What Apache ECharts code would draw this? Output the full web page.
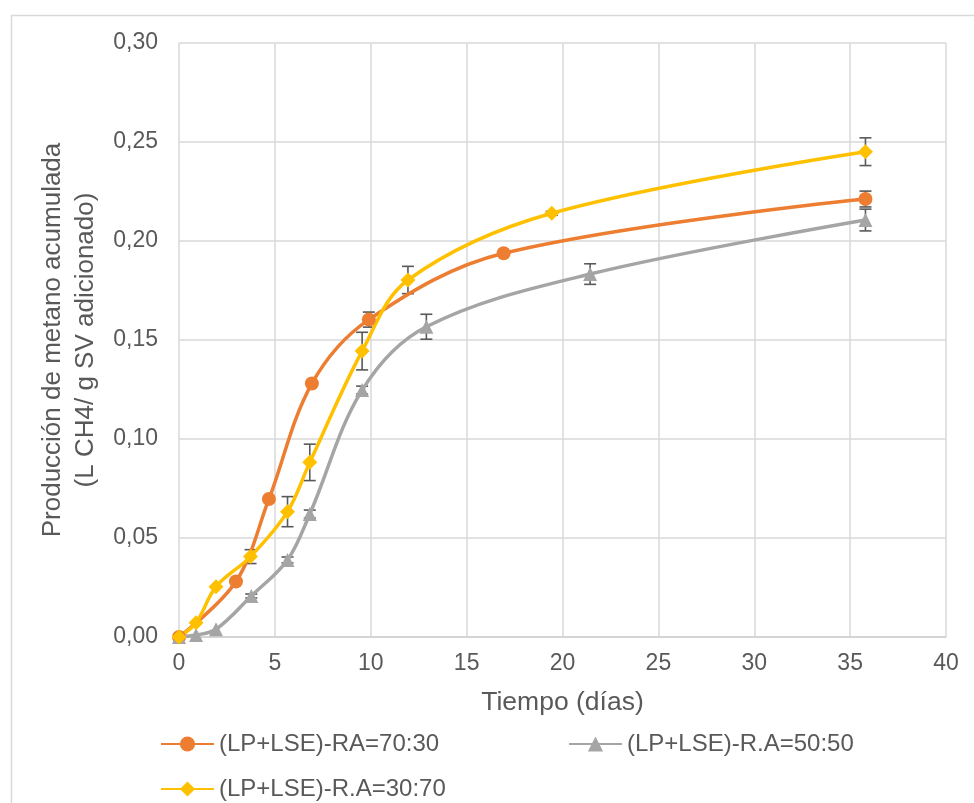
<!DOCTYPE html>
<html>
<head>
<meta charset="utf-8">
<script src="https://cdn.jsdelivr.net/npm/echarts@6/dist/echarts.min.js"></script>
<style>html,body{margin:0;padding:0;background:#fff}#c{width:974px;height:803px}</style>
</head>
<body>
<div id="c"></div>
<script>
// Series names
var names = ['(LP+LSE)-RA=70:30', '(LP+LSE)-R.A=50:50', '(LP+LSE)-R.A=30:70'];
// Orange: x (days), y, error
var xA = [0, 2.97, 4.69, 6.93, 9.9, 16.93, 35.8];
var yA = [0, 0.028, 0.0697, 0.128, 0.1603, 0.1938, 0.2212];
var eA = [0, 0, 0, 0, 0.0038, 0, 0.004];
// Gray
var xB = [0, 0.89, 1.93, 3.77, 5.66, 6.82, 9.55, 12.9, 21.44, 35.8];
var yB = [0, 0.001, 0.0039, 0.0207, 0.0389, 0.0621, 0.1247, 0.1567, 0.1833, 0.2106];
var eB = [0, 0, 0, 0.001, 0.0015, 0.002, 0.002, 0.0063, 0.0052, 0.0055];
// Yellow
var xC = [0, 0.89, 1.93, 3.73, 5.66, 6.82, 9.55, 11.94, 19.44, 35.8];
var yC = [0, 0.0072, 0.0254, 0.0406, 0.0633, 0.0882, 0.1444, 0.1803, 0.214, 0.2451];
var eC = [0, 0, 0, 0.0035, 0.0076, 0.0092, 0.0095, 0.0069, 0.001, 0.007];
// Axis ticks
var yTicks = [0, 0.05, 0.10, 0.15, 0.20, 0.25, 0.30];
var xTicks = [0, 5, 10, 15, 20, 25, 30, 35, 40];

var colors = ['#ED7D31', '#A5A5A5', '#FFC000'];
var symbols = ['circle', 'triangle', 'diamond'];
var FONT = 'Liberation Sans, Arial, sans-serif';

function pts(xs, ys) { return xs.map(function (x, i) { return [x, ys[i]]; }); }
function errPts(xs, ys, es) {
  var out = [];
  xs.forEach(function (x, i) { if (es[i] > 0) out.push([x, ys[i], es[i]]); });
  return out;
}
function errSeries(data) {
  return {
    type: 'custom', z: 1, silent: true,
    data: data,
    renderItem: function (params, api) {
      var x = api.value(0), y = api.value(1), e = api.value(2);
      var t = api.coord([x, y + e]), b = api.coord([x, y - e]);
      var w = 6;
      var st = { stroke: '#595959', lineWidth: 1.6 };
      return {
        type: 'group', children: [
          { type: 'line', shape: { x1: t[0], y1: t[1], x2: b[0], y2: b[1] }, style: st },
          { type: 'line', shape: { x1: t[0] - w, y1: t[1], x2: t[0] + w, y2: t[1] }, style: st },
          { type: 'line', shape: { x1: b[0] - w, y1: b[1], x2: b[0] + w, y2: b[1] }, style: st }
        ]
      };
    }
  };
}
function lineSeries(i, data) {
  return {
    name: names[i], type: 'line', z: 3, smooth: 0.35,
    data: data, symbol: symbols[i], symbolSize: i === 2 ? 15 : 14,
    lineStyle: { color: colors[i], width: 3.5 },
    itemStyle: { color: colors[i] }
  };
}
function legendAt(i, left, top) {
  return {
    data: [names[i]], left: left, top: top, itemWidth: 53, itemHeight: 19, itemGap: 0,
    textStyle: { fontFamily: FONT, fontSize: 24, color: '#595959' }
  };
}

var chart = echarts.init(document.getElementById('c'), null, { renderer: 'canvas' });
chart.setOption({
  animation: false,
  backgroundColor: '#fff',
  graphic: [{ type: 'rect', left: 9, top: 13, shape: { width: 1100, height: 1000 }, style: { fill: 'none', stroke: '#d9d9d9', lineWidth: 1.5 } }],
  grid: { left: 179, top: 43, right: 28, bottom: 166 },
  legend: [legendAt(0, 155, 727), legendAt(1, 563, 727), legendAt(2, 155, 772)],
  xAxis: {
    type: 'value', min: xTicks[0], max: xTicks[xTicks.length - 1], interval: 5,
    name: 'Tiempo (días)', nameLocation: 'middle', nameGap: 52,
    nameTextStyle: { fontFamily: FONT, fontSize: 26.5, color: '#595959' },
    axisLine: { lineStyle: { color: '#d0d0d0', width: 1.5 } },
    axisTick: { show: false },
    axisLabel: { fontFamily: FONT, fontSize: 23, color: '#595959', margin: 15 },
    splitLine: { lineStyle: { color: '#d9d9d9', width: 1.5 } }
  },
  yAxis: {
    type: 'value', min: yTicks[0], max: yTicks[yTicks.length - 1], interval: 0.05,
    name: 'Producción de metano acumulada\n(L CH4/ g SV adicionado)', nameLocation: 'middle', nameGap: 66, nameRotate: 90,
    nameTextStyle: { fontFamily: FONT, fontSize: 26, color: '#595959', lineHeight: 33 },
    axisLine: { show: false }, axisTick: { show: false },
    axisLabel: { fontFamily: FONT, fontSize: 23, color: '#595959', margin: 21, formatter: function (v) { return v.toFixed(2).replace('.', ','); } },
    splitLine: { lineStyle: { color: '#d9d9d9', width: 1.5 } }
  },
  series: [
    errSeries(errPts(xA, yA, eA)), errSeries(errPts(xB, yB, eB)), errSeries(errPts(xC, yC, eC)),
    lineSeries(0, pts(xA, yA)), lineSeries(1, pts(xB, yB)), lineSeries(2, pts(xC, yC))
  ]
});
</script>
</body>
</html>
